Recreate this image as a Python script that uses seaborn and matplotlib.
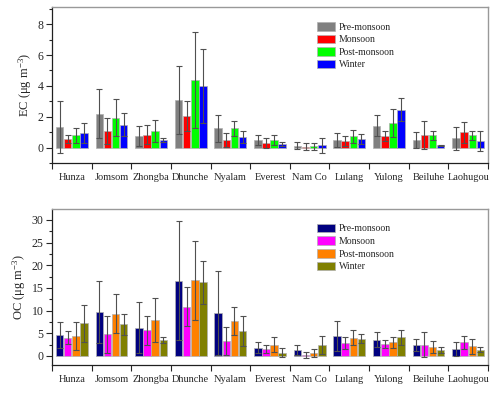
import numpy as np
import pandas as pd
import matplotlib
matplotlib.use("Agg")
import matplotlib.pyplot as plt
from matplotlib.ticker import MultipleLocator, FixedLocator
import seaborn as sns

sites = ["Hunza", "Jomsom", "Zhongba", "Dhunche", "Nyalam", "Everest",
         "Nam Co", "Lulang", "Yulong", "Beiluhe", "Laohugou"]
seasons = ["Pre-monsoon", "Monsoon", "Post-monsoon", "Winter"]

# EC means and standard deviations
ec_pre = [1.35, 2.2, 0.75, 3.1, 1.25, 0.5, 0.13, 0.5, 1.42, 0.5, 0.6]
ec_mon = [0.55, 1.1, 0.85, 2.05, 0.5, 0.3, 0.06, 0.43, 0.77, 0.8, 1.0]
ec_post = [0.8, 1.95, 1.1, 4.4, 1.25, 0.5, 0.08, 0.73, 1.6, 0.8, 0.8]
ec_win = [0.95, 1.5, 0.5, 4.0, 0.7, 0.25, 0.17, 0.58, 2.45, 0.17, 0.45]
ec_pre_sd = [1.7, 1.6, 0.65, 2.2, 0.9, 0.3, 0.22, 0.45, 0.68, 0.53, 0.73]
ec_mon_sd = [0.25, 0.85, 0.6, 0.95, 0.45, 0.3, 0.22, 0.34, 0.33, 0.9, 0.67]
ec_post_sd = [0.5, 1.2, 0.7, 3.1, 0.5, 0.35, 0.22, 0.42, 0.9, 0.27, 0.3]
ec_win_sd = [0.65, 0.75, 0.1, 2.4, 0.4, 0.15, 0.48, 0.32, 0.75, 0.03, 0.65]

# OC means and standard deviations
oc_pre = [4.6, 9.7, 6.2, 16.6, 9.5, 1.85, 1.26, 4.4, 3.6, 2.4, 1.5]
oc_mon = [4.0, 4.8, 5.6, 10.8, 3.26, 1.5, 0.2, 2.9, 2.7, 2.5, 3.0]
oc_post = [4.45, 9.25, 7.9, 16.7, 7.7, 2.5, 0.67, 4.0, 3.0, 1.9, 2.1]
oc_win = [7.2, 6.95, 3.5, 16.2, 5.55, 0.74, 2.4, 3.8, 4.1, 1.26, 1.4]
oc_pre_sd = [2.9, 6.8, 5.6, 13.1, 9.3, 1.15, 1.14, 3.3, 1.7, 1.4, 1.5]
oc_mon_sd = [1.4, 4.1, 3.2, 4.3, 3.14, 0.9, 0.6, 1.3, 0.85, 2.7, 1.4]
oc_post_sd = [3.05, 4.3, 4.8, 8.7, 3.0, 1.65, 0.93, 1.6, 1.2, 1.36, 1.6]
oc_win_sd = [4.1, 2.25, 0.7, 4.8, 3.35, 1.06, 1.9, 1.0, 1.7, 0.64, 0.5]

ec_colors = ["#808080", "#ff0000", "#00ff00", "#0000ff"]
oc_colors = ["#000080", "#ff00ff", "#ff8000", "#808000"]


def long_df(vals, sds):
    rows = []
    for s, v, e in zip(seasons, vals, sds):
        for site, vv, ee in zip(sites, v, e):
            rows.append({"site": site, "season": s, "value": vv, "sd": ee})
    return pd.DataFrame(rows)


sns.set_style("white")
plt.rcParams["font.family"] = ["Liberation Serif", "DejaVu Serif"]
plt.rcParams["mathtext.fontset"] = "custom"
plt.rcParams["mathtext.rm"] = "Liberation Serif"
plt.rcParams["mathtext.it"] = "Liberation Serif:italic"

fig = plt.figure(figsize=(5.0, 3.98), dpi=100)
ax1 = fig.add_axes([0.104, 0.590, 0.872, 0.392])
ax2 = fig.add_axes([0.104, 0.083, 0.872, 0.392])


def draw(ax, df, colors, ylim, major, minor, ylabel):
    sns.barplot(data=df, x="site", y="value", hue="season", order=sites,
                hue_order=seasons, palette=colors, errorbar=None,
                width=0.82, gap=0.08, edgecolor="#b0b0b0", linewidth=0.5,
                saturation=1, ax=ax)
    bars = list(ax.patches)[:len(df)]
    idx = 0
    for s in seasons:
        sub = df[df.season == s]
        for (_, r) in sub.iterrows():
            p = bars[idx]
            idx += 1
            xc = p.get_x() + p.get_width() / 2
            ax.errorbar(xc, r["value"], yerr=r["sd"], fmt="none",
                        ecolor="#505050", elinewidth=0.8, capsize=2,
                        capthick=0.8, zorder=5)
    ax.set_xlim(-0.5, 10.5)
    ax.set_ylim(*ylim)
    ax.yaxis.set_major_locator(MultipleLocator(major))
    ax.yaxis.set_minor_locator(MultipleLocator(minor))
    ax.xaxis.set_minor_locator(FixedLocator(np.arange(-0.5, 11, 1.0)))
    ax.tick_params(axis="x", which="major", length=0, labelsize=7.5, pad=7)
    ax.tick_params(axis="x", which="minor", length=4, width=0.8,
                   direction="out", bottom=True)
    ax.tick_params(axis="y", which="major", length=4, width=0.8,
                   direction="out", left=True, labelsize=8.5, pad=2)
    ax.tick_params(axis="y", which="minor", length=2.5, width=0.8,
                   direction="out", left=True)
    ax.set_xlabel("")
    ax.set_ylabel(ylabel, fontsize=9, labelpad=3)
    for side in ["left", "bottom"]:
        ax.spines[side].set_color("#202020")
        ax.spines[side].set_linewidth(0.9)
    for side in ["top", "right"]:
        ax.spines[side].set_color("#999999")
        ax.spines[side].set_linewidth(1.0)
    ax.legend(loc="upper left", bbox_to_anchor=(0.60, 0.93), frameon=False,
              fontsize=7, handlelength=1.8, handleheight=1.0,
              labelspacing=0.3, handletextpad=0.4, borderaxespad=0)


draw(ax1, long_df([ec_pre, ec_mon, ec_post, ec_win],
                  [ec_pre_sd, ec_mon_sd, ec_post_sd, ec_win_sd]),
     ec_colors, (-1, 9.1), 2, 1, "EC (μg m$^{-3}$)")
draw(ax2, long_df([oc_pre, oc_mon, oc_post, oc_win],
                  [oc_pre_sd, oc_mon_sd, oc_post_sd, oc_win_sd]),
     oc_colors, (-2, 32.4), 5, 2.5, "OC (μg m$^{-3}$)")

fig.savefig("out.png", dpi=100)
